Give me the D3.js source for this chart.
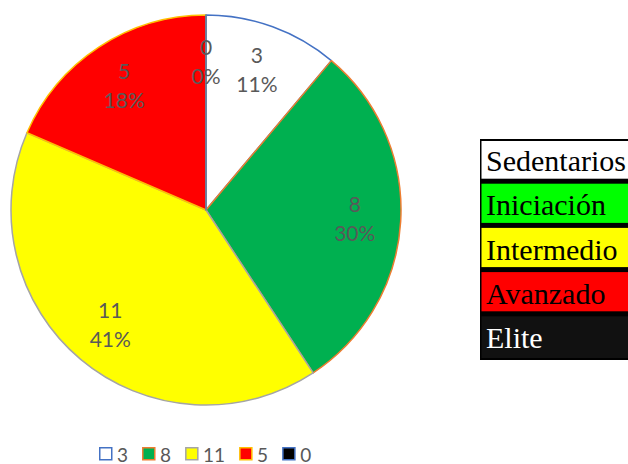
<!DOCTYPE html>
<html>
<head>
<meta charset="utf-8">
<script src="https://cdn.jsdelivr.net/npm/d3@7"></script>
<style>
  html, body { margin: 0; padding: 0; background: #ffffff; }
  svg { display: block; }
</style>
</head>
<body>
<svg id="chart" width="628" height="464"></svg>
<script>
// Pie series: counts per level, as shown in the slice labels and legend
const categories = ["3", "8", "11", "5", "0"];
const values = [3, 8, 11, 5, 0];
const percentLabels = ["11%", "30%", "41%", "18%", "0%"];
const sliceFills = ["#FFFFFF", "#00B050", "#FFFF00", "#FF0000", "#000000"];
const sliceStrokes = ["#4472C4", "#ED7D31", "#A5A5A5", "#FFC000", "#4472C4"];

// Level key shown as a table beside the pie
const levels = ["Sedentarios", "Iniciación", "Intermedio", "Avanzado", "Elite"];
const levelFills = ["#FFFFFF", "#00FF00", "#FFFF00", "#FF0000", "#111111"];
const levelText = ["#000000", "#000000", "#000000", "#000000", "#FFFFFF"];

const SANS = '"Lato"';
const SERIF = '"Liberation Serif"';

const svg = d3.select("#chart");
const cx = 206, cy = 210, radius = 195, labelRadius = 149;

const rows = categories.map((c, i) => ({
  name: c, value: values[i], pct: percentLabels[i],
  fill: sliceFills[i], stroke: sliceStrokes[i]
}));

const pie = d3.pie().sort(null).value(d => d.value);
const arcs = pie(rows);
const arc = d3.arc().innerRadius(0).outerRadius(radius);
const labelArc = d3.arc().innerRadius(labelRadius).outerRadius(labelRadius);

const g = svg.append("g").attr("transform", `translate(${cx},${cy})`);

g.selectAll("path.slice")
  .data(arcs)
  .join("path")
  .attr("class", "slice")
  .attr("d", arc)
  .attr("fill", d => d.data.fill)
  .attr("stroke", d => d.data.stroke)
  .attr("stroke-width", 1.5)
  .attr("stroke-linejoin", "round");

// Value and percentage labels inside each slice
const labels = g.selectAll("g.lbl")
  .data(arcs)
  .join("g")
  .attr("class", "lbl")
  .attr("transform", d => `translate(${labelArc.centroid(d)})`);

labels.append("text")
  .style("font-family", SANS)
  .attr("y", -15)
  .attr("text-anchor", "middle")
  .attr("dominant-baseline", "central")
  .attr("font-size", 21)
  .attr("fill", "#595959")
  .text(d => d.data.value);

labels.append("text")
  .style("font-family", SANS)
  .attr("y", 14)
  .attr("text-anchor", "middle")
  .attr("dominant-baseline", "central")
  .attr("font-size", 21)
  .attr("fill", "#595959")
  .text(d => d.data.pct);

// Bottom legend
const legend = svg.append("g").attr("transform", "translate(99,453)");
let lx = 0;
rows.forEach(r => {
  const item = legend.append("g").attr("transform", `translate(${lx},0)`);
  item.append("rect")
    .attr("x", 0.75).attr("y", -5.25)
    .attr("width", 12).attr("height", 12)
    .attr("fill", r.fill)
    .attr("stroke", r.stroke)
    .attr("stroke-width", 1.5);
  const t = item.append("text")
    .style("font-family", SANS)
    .attr("x", 18)
    .attr("y", 1)
    .attr("dominant-baseline", "central")
    .attr("font-size", 19)
    .attr("fill", "#595959")
    .text(r.name);
  lx += 18 + t.node().getComputedTextLength() + 14;
});

// Level key table: black frame with coloured rows separated by dark rules
const tableX = 480, tableY = 139, rowH = 44.2, tableW = 160;
const table = svg.append("g");
const yRow = d3.scaleBand().domain(levels).range([tableY, tableY + rowH * levels.length]).padding(0);

table.append("rect")
  .attr("x", tableX).attr("y", tableY)
  .attr("width", tableW).attr("height", rowH * levels.length)
  .attr("fill", "#000000");

levels.forEach((name, i) => {
  const y0 = yRow(name);
  const top = i === 0 ? 2 : 0.5;
  const bottom = i === levels.length - 1 ? 2 : 4.5;
  table.append("rect")
    .attr("x", tableX + 1.5)
    .attr("y", y0 + top)
    .attr("width", tableW)
    .attr("height", rowH - top - bottom)
    .attr("fill", levelFills[i]);
  table.append("text")
    .style("font-family", SERIF)
    .attr("x", 486)
    .attr("y", y0 + rowH - 12)
    .attr("font-size", 30)
    .attr("fill", levelText[i])
    .text(name);
});
</script>
</body>
</html>
